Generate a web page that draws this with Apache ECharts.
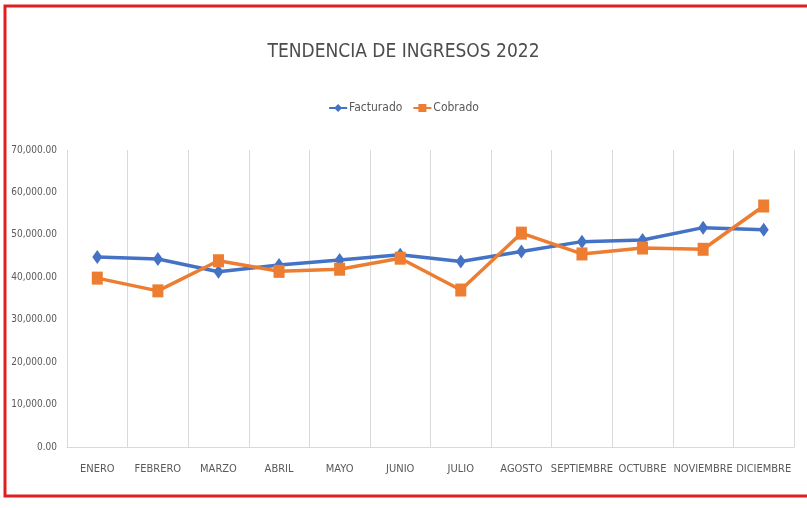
<!DOCTYPE html>
<html><head><meta charset="utf-8">
<script src="https://cdn.jsdelivr.net/npm/echarts@6/dist/echarts.min.js"></script>
<style>html,body{margin:0;padding:0;background:#fff}#c{width:807px;height:508px}</style>
</head><body><div id="c"></div>
<script>
const months = ['ENERO','FEBRERO','MARZO','ABRIL','MAYO','JUNIO','JULIO','AGOSTO','SEPTIEMBRE','OCTUBRE','NOVIEMBRE','DICIEMBRE'];
const facturado = [44800, 44300, 41300, 42900, 44100, 45300, 43700, 46100, 48400, 48800, 51700, 51200];
const cobrado = [39800, 36800, 43900, 41400, 41900, 44500, 37000, 50400, 45500, 46900, 46600, 56800];
const titleText = 'TENDENCIA DE INGRESOS 2022';
const FONT = '"Liberation Sans Narrow","DejaVu Sans Condensed","Roboto",sans-serif';
const chart = echarts.init(document.getElementById('c'), null, {renderer:'canvas'});
chart.setOption({
  animation:false,
  backgroundColor:'#fff',
  graphic:[{type:'rect',shape:{x:5,y:6,width:830,height:490},style:{fill:'none',stroke:'#e02020',lineWidth:3},z:100}],
  title:{text:titleText,left:'center',top:38,textStyle:{fontFamily:FONT,fontSize:19,fontWeight:500,color:'#4d4d4d'}},
  legend:{top:97,left:'center',itemWidth:18,itemHeight:10,itemGap:10,
    textStyle:{fontFamily:FONT,fontSize:12,color:'#595959',padding:[0,0,0,-3]},
    data:[{name:'Facturado'},{name:'Cobrado'}]},
  grid:{left:67,right:13,top:150,bottom:61},
  xAxis:{type:'category',data:months,boundaryGap:true,
    axisLine:{lineStyle:{color:'#d9d9d9',width:1}},axisTick:{show:false},
    splitLine:{show:true,interval:0,lineStyle:{color:'#d9d9d9'}},
    axisLabel:{interval:0,margin:17,fontFamily:FONT,fontSize:11,color:'#595959'}},
  yAxis:{type:'value',min:0,max:70000,interval:10000,
    axisLine:{show:false},axisTick:{show:false},splitLine:{show:false},
    axisLabel:{margin:10,fontFamily:FONT,fontSize:10,color:'#595959',
      formatter:v=>v.toLocaleString('en-US',{minimumFractionDigits:2,maximumFractionDigits:2})}},
  series:[
    {name:'Facturado',type:'line',data:facturado,symbol:'diamond',symbolSize:[10,14],
      lineStyle:{color:'#4472C4',width:3.5},itemStyle:{color:'#4472C4'}},
    {name:'Cobrado',type:'line',data:cobrado,symbol:'rect',symbolSize:[11,13],
      lineStyle:{color:'#ED7D31',width:3.5},itemStyle:{color:'#ED7D31'}}
  ]
});
</script></body></html>
